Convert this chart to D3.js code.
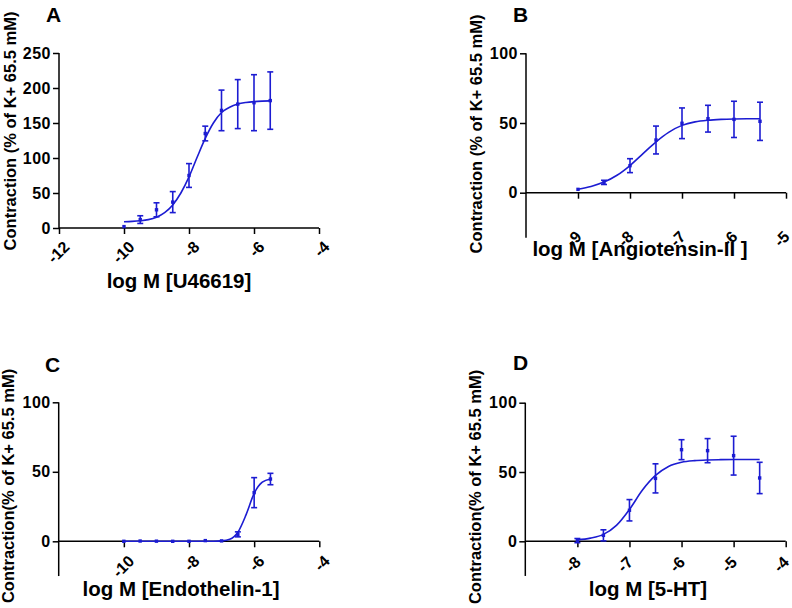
<!DOCTYPE html>
<html>
<head>
<meta charset="utf-8">
<script src="https://cdn.jsdelivr.net/npm/d3@7"></script>
<style>
body{margin:0;background:#fff}
text{font-family:"Liberation Sans",Arial,sans-serif;font-weight:bold}
</style>
</head>
<body>
<script>
// panel A - U46619
var xA=[-10,-9.5,-9,-8.5,-8,-7.5,-7,-6.5,-6,-5.5]
var meanA=[2,12,26,37,75,135,168,177,179,182]
var errA=[0,5.5,10,15,17,10.5,29,35,40,41]
var fitXA=[-10,-9.75,-9.5,-9.25,-9,-8.75,-8.5,-8.25,-8,-7.75,-7.5,-7.25,-7,-6.75,-6.5,-6.25,-6,-5.75,-5.5]
var fitA=[9,9.4,10.3,12,15.5,22,33,50,73,101,128,150,165,172.5,177,179.3,180.6,181.3,181.6]

// panel B - Angiotensin-II
var xB=[-9,-8.5,-8,-7.5,-7,-6.5,-6,-5.5]
var meanB=[2.4,7.4,19.4,37.8,49.8,53.1,52.6,51.2]
var errB=[0,1.5,5,10,11,9.6,13,13.7]
var fitXB=[-9,-8.75,-8.5,-8.25,-8,-7.75,-7.5,-7.25,-7,-6.75,-6.5,-6.25,-6,-5.75,-5.5]
var fitB=[2.5,4.5,7.6,12.5,19.5,28,36.5,43.5,48.3,50.8,52,52.6,52.9,53,53]

// panel C - Endothelin-1
var xC=[-10,-9.5,-9,-8.5,-8,-7.5,-7,-6.5,-6,-5.5]
var meanC=[0,0.2,0.1,0,0,0.5,0.3,5,35,44.8]
var errC=[0,0,0,0,0,0,0,1.8,10.8,4.1]
var fitXC=[-10,-9.5,-9,-8.5,-8,-7.5,-7.25,-7,-6.75,-6.5,-6.25,-6,-5.75,-5.5]
var fitC=[0,0,0,0,0,0,0.05,0.3,1.4,6.5,19,34.5,42.5,44.8]

// panel D - 5-HT
var xD=[-8,-7.5,-7,-6.5,-6,-5.5,-5,-4.5]
var meanD=[0.5,4.3,22.4,45.4,66.1,65.4,61.8,45.7]
var errD=[1.5,4,7.7,10.5,7.2,8.7,14,11.3]
var fitXD=[-8,-7.75,-7.5,-7.25,-7,-6.75,-6.5,-6.25,-6,-5.75,-5.5,-5.25,-5,-4.75,-4.5]
var fitD=[1,2.3,5,11.5,23,37,47.5,54,57,58.2,58.7,58.9,59,59,59]

var yTitle1="Contraction (% of K+ 65.5 mM)"
var yTitle2="Contraction(% of K+ 65.5 mM)"

var blue="#1c1cd2"

var svg=d3.select("body").append("svg")
  .attr("width",792)
  .attr("height",608)

var drawPanel=function(p){
  var xScale=d3.scaleLinear().domain(p.xDomain).range(p.xRange)
  var yScale=d3.scaleLinear().domain([0,p.yMax]).range([p.y0,p.yTop])
  var g=svg.append("g")

  // y axis
  var yAxis=d3.axisLeft(yScale).tickValues(p.yTicks).tickSize(6).tickPadding(2)
  var ya=g.append("g")
    .attr("transform","translate("+p.xRange[0]+",0)")
    .call(yAxis)
  ya.select(".domain").remove()
  ya.selectAll("line").attr("stroke","#000").attr("stroke-width",1.5)
  ya.selectAll("text").attr("font-size",16).attr("fill","#000").attr("letter-spacing","0.5px")
  g.append("line")
    .attr("x1",p.xRange[0]).attr("x2",p.xRange[0])
    .attr("y1",yScale(p.yMax)).attr("y2",yScale(p.yLow))
    .attr("stroke","#000").attr("stroke-width",1.5)

  // x axis at zero
  var xAxis=d3.axisBottom(xScale).tickValues(p.xTicks).tickSize(6)
    .tickFormat(function(d){return String(d)})
  var xa=g.append("g")
    .attr("transform","translate(0,"+yScale(0)+")")
    .call(xAxis)
  xa.select(".domain").remove()
  xa.selectAll("line").attr("stroke","#000").attr("stroke-width",1.5)
  xa.selectAll("text")
    .attr("font-size",16).attr("fill","#000")
    .attr("text-anchor","end")
    .attr("y",0).attr("dy","0.35em")
    .attr("transform","translate("+p.labDx+","+p.labDy+") rotate(-45)")
  g.append("line")
    .attr("x1",p.xRange[0]).attr("x2",p.xRange[1])
    .attr("y1",yScale(0)).attr("y2",yScale(0))
    .attr("stroke","#000").attr("stroke-width",1.5)

  // fitted curve
  var line=d3.line()
    .x(function(d){return xScale(d[0])})
    .y(function(d){return yScale(d[1])})
    .curve(d3.curveMonotoneX)
  g.append("path")
    .datum(d3.zip(p.fitX,p.fitY))
    .attr("d",line)
    .attr("fill","none")
    .attr("stroke",blue)
    .attr("stroke-width",1.6)

  // error bars
  var pts=d3.zip(p.x,p.mean,p.err)
  var eb=g.selectAll(".eb").data(pts.filter(function(d){return d[2]>0})).enter().append("g")
  eb.append("line")
    .attr("x1",function(d){return xScale(d[0])}).attr("x2",function(d){return xScale(d[0])})
    .attr("y1",function(d){return yScale(d[1]+d[2])}).attr("y2",function(d){return yScale(d[1]-d[2])})
    .attr("stroke",blue).attr("stroke-width",1.6)
  ;[1,-1].forEach(function(s){
    eb.append("line")
      .attr("x1",function(d){return xScale(d[0])-3}).attr("x2",function(d){return xScale(d[0])+3})
      .attr("y1",function(d){return yScale(d[1]+s*d[2])}).attr("y2",function(d){return yScale(d[1]+s*d[2])})
      .attr("stroke",blue).attr("stroke-width",1.6)
  })
  g.selectAll(".pt").data(pts).enter().append("rect")
    .attr("x",function(d){return xScale(d[0])-1.7})
    .attr("y",function(d){return yScale(d[1])-1.7})
    .attr("width",3.4).attr("height",3.4)
    .attr("fill",blue)

  // titles
  g.append("text")
    .attr("x",p.letter[0]).attr("y",p.letter[1])
    .attr("font-size",21)
    .text(p.name)
  g.append("text")
    .attr("transform","translate("+p.yTitlePos[0]+","+p.yTitlePos[1]+") rotate(-90)")
    .attr("text-anchor","middle")
    .attr("font-size",16.5)
    .text(p.yTitle)
  g.append("text")
    .attr("x",p.xTitlePos[0]).attr("y",p.xTitlePos[1])
    .attr("text-anchor","middle")
    .attr("font-size",20.5)
    .text(p.xTitle)
}

drawPanel({name:"A",x:xA,mean:meanA,err:errA,fitX:fitXA,fitY:fitA,
  xDomain:[-12,-4],xRange:[59,319],xTicks:[-12,-10,-8,-6,-4],
  yMax:250,yLow:0,y0:228,yTop:53,yTicks:[0,50,100,150,200,250],
  labDx:7,labDy:16,letter:[46,22],yTitle:yTitle1,yTitlePos:[16,131],
  xTitle:"log M [U46619]",xTitlePos:[179,288]})

drawPanel({name:"B",x:xB,mean:meanB,err:errB,fitX:fitXB,fitY:fitB,
  xDomain:[-10,-5],xRange:[526,786],xTicks:[-9,-8,-7,-6,-5],
  yMax:100,yLow:-32.3,y0:192.7,yTop:53.3,yTicks:[0,50,100],
  labDx:0,labDy:41,letter:[513,22],yTitle:yTitle1,yTitlePos:[482,134],
  xTitle:"log M [Angiotensin-II ]",xTitlePos:[640,256]})

drawPanel({name:"C",x:xC,mean:meanC,err:errC,fitX:fitXC,fitY:fitC,
  xDomain:[-12,-4],xRange:[58.7,319.3],xTicks:[-10,-8,-6,-4],
  yMax:100,yLow:-25,y0:541.3,yTop:402.3,yTicks:[0,50,100],
  labDx:7,labDy:17,letter:[45,372],yTitle:yTitle2,yTitlePos:[14,486],
  xTitle:"log M [Endothelin-1]",xTitlePos:[181,596]})

drawPanel({name:"D",x:xD,mean:meanD,err:errD,fitX:fitXD,fitY:fitD,
  xDomain:[-9,-4],xRange:[525.3,785.7],xTicks:[-8,-7,-6,-5,-4],
  yMax:100,yLow:-25,y0:541.3,yTop:402.7,yTicks:[0,50,100],
  labDx:0,labDy:18,letter:[513,370],yTitle:yTitle2,yTitlePos:[481,487],
  xTitle:"log M [5-HT]",xTitlePos:[648,596]})
</script>
</body>
</html>
